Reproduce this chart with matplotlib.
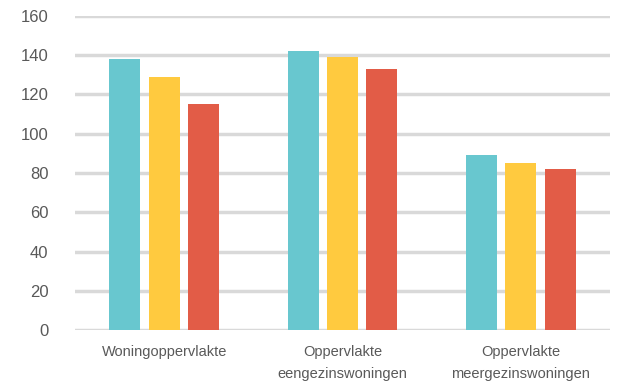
import numpy as np
import matplotlib.pyplot as plt

categories = ["Woningoppervlakte", "Oppervlakte\neengezinswoningen", "Oppervlakte\nmeergezinswoningen"]
serie_a = [138, 142, 89]
serie_b = [129, 139, 85]
serie_c = [115, 133, 82]
kleuren = ["#68C7CF", "#FFCA3F", "#E25C47"]

plt.rcParams['font.family'] = ['Liberation Sans', 'DejaVu Sans']

fig = plt.figure(figsize=(6.4, 3.86), dpi=100)
ax = fig.add_axes([75/640, 1-330/386, 535/640, 314/386])

x = np.arange(len(categories))
w = 0.174
step = 0.221
for i, vals in enumerate([serie_a, serie_b, serie_c]):
    ax.bar(x + (i-1)*step, vals, width=w, color=kleuren[i], zorder=3)

ax.set_xlim(-0.5, 2.5)
ax.set_ylim(0, 160)
ax.set_yticks(range(0, 161, 20))
ax.yaxis.grid(True, color="#d9d9d9", linewidth=2.5, zorder=0)
ax.set_axisbelow(True)
for s in ax.spines.values():
    s.set_visible(False)
ax.tick_params(length=0, colors="#595959")
ax.tick_params(axis="y", pad=19, labelsize=12)
ax.tick_params(axis="x", pad=11, labelsize=10.5)
ax.set_xticks(x)
ax.set_xticklabels(categories, linespacing=1.7)

fig.savefig("out.png", dpi=100)
